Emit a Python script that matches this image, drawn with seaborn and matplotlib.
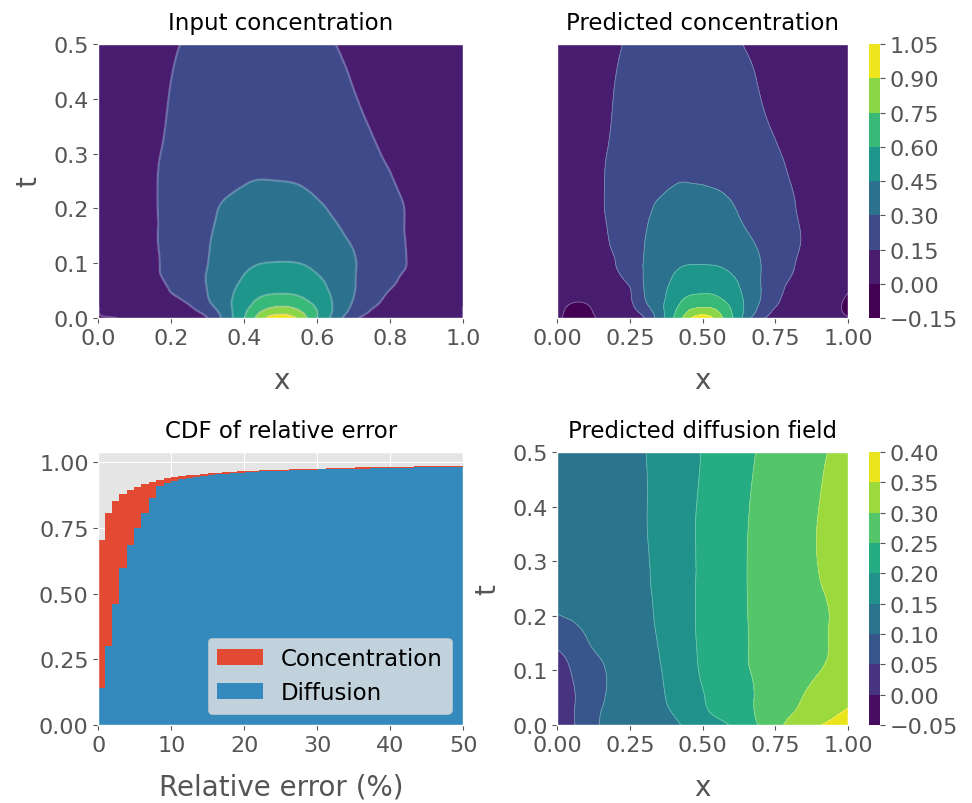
import numpy as np
import matplotlib
matplotlib.use("Agg")
import matplotlib.pyplot as plt
import matplotlib.tri as mtri
import seaborn as sns

# grids (x in space, t in time)
x_grid = [0.00, 0.05, 0.10, 0.15, 0.20, 0.25, 0.30, 0.35, 0.40, 0.45, 0.50,
          0.55, 0.60, 0.65, 0.70, 0.75, 0.80, 0.85, 0.90, 0.95, 1.00]
t_conc = [0.00, 0.01, 0.02, 0.04, 0.06, 0.08, 0.10, 0.15, 0.20, 0.25, 0.30, 0.40, 0.50]
t_diff = [0.00, 0.025, 0.05, 0.10, 0.15, 0.20, 0.25, 0.30, 0.40, 0.50]

# input concentration, one row per t
conc_input = [
    [0.00, 0.00, 0.01, 0.02, 0.04, 0.08, 0.15, 0.37, 0.60, 0.86, 1.00, 0.86, 0.60, 0.38, 0.18, 0.10, 0.06, 0.04, 0.02, 0.01, 0.00],
    [0.00, 0.01, 0.02, 0.04, 0.07, 0.11, 0.20, 0.38, 0.58, 0.78, 0.86, 0.78, 0.60, 0.41, 0.24, 0.13, 0.08, 0.05, 0.03, 0.01, 0.00],
    [0.00, 0.02, 0.03, 0.06, 0.09, 0.14, 0.25, 0.40, 0.56, 0.70, 0.76, 0.71, 0.58, 0.42, 0.27, 0.16, 0.10, 0.06, 0.04, 0.02, 0.00],
    [0.01, 0.03, 0.06, 0.09, 0.14, 0.19, 0.30, 0.41, 0.52, 0.60, 0.62, 0.60, 0.52, 0.42, 0.30, 0.20, 0.13, 0.08, 0.05, 0.03, 0.01],
    [0.02, 0.04, 0.08, 0.12, 0.16, 0.21, 0.31, 0.40, 0.48, 0.53, 0.55, 0.53, 0.48, 0.41, 0.31, 0.22, 0.16, 0.11, 0.06, 0.04, 0.02],
    [0.03, 0.05, 0.09, 0.135, 0.17, 0.22, 0.31, 0.38, 0.45, 0.49, 0.50, 0.49, 0.45, 0.40, 0.31, 0.23, 0.17, 0.135, 0.08, 0.05, 0.03],
    [0.03, 0.06, 0.10, 0.135, 0.18, 0.23, 0.30, 0.37, 0.42, 0.45, 0.455, 0.45, 0.42, 0.38, 0.31, 0.24, 0.18, 0.145, 0.09, 0.06, 0.03],
    [0.04, 0.07, 0.10, 0.14, 0.18, 0.23, 0.29, 0.33, 0.36, 0.375, 0.375, 0.37, 0.35, 0.32, 0.28, 0.24, 0.19, 0.14, 0.10, 0.07, 0.04],
    [0.04, 0.07, 0.10, 0.14, 0.18, 0.23, 0.28, 0.31, 0.325, 0.335, 0.335, 0.33, 0.31, 0.29, 0.26, 0.22, 0.18, 0.14, 0.10, 0.07, 0.04],
    [0.04, 0.07, 0.10, 0.14, 0.18, 0.22, 0.26, 0.28, 0.295, 0.302, 0.30, 0.295, 0.28, 0.265, 0.24, 0.21, 0.16, 0.12, 0.09, 0.06, 0.04],
    [0.04, 0.07, 0.10, 0.135, 0.17, 0.20, 0.23, 0.25, 0.26, 0.265, 0.265, 0.26, 0.25, 0.235, 0.21, 0.17, 0.13, 0.10, 0.08, 0.06, 0.04],
    [0.04, 0.07, 0.10, 0.125, 0.155, 0.18, 0.20, 0.215, 0.225, 0.23, 0.23, 0.22, 0.20, 0.18, 0.155, 0.13, 0.11, 0.09, 0.07, 0.05, 0.03],
    [0.04, 0.07, 0.10, 0.12, 0.14, 0.16, 0.18, 0.19, 0.20, 0.20, 0.195, 0.185, 0.17, 0.15, 0.13, 0.115, 0.10, 0.085, 0.07, 0.05, 0.03],
]

# predicted concentration
conc_pred = [
    [0.02, -0.03, -0.03, 0.02, 0.05, 0.08, 0.15, 0.37, 0.60, 0.84, 1.00, 0.83, 0.62, 0.38, 0.18, 0.10, 0.07, 0.05, 0.04, 0.03, 0.01],
    [0.02, -0.02, -0.02, 0.03, 0.06, 0.10, 0.20, 0.38, 0.58, 0.77, 0.84, 0.77, 0.60, 0.41, 0.24, 0.12, 0.08, 0.06, 0.05, 0.03, -0.02],
    [0.02, -0.01, -0.01, 0.04, 0.08, 0.12, 0.25, 0.40, 0.56, 0.70, 0.745, 0.71, 0.58, 0.42, 0.27, 0.15, 0.09, 0.07, 0.06, 0.03, -0.03],
    [0.03, 0.02, 0.03, 0.06, 0.10, 0.14, 0.30, 0.40, 0.52, 0.60, 0.62, 0.60, 0.52, 0.42, 0.30, 0.19, 0.11, 0.08, 0.06, 0.04, -0.01],
    [0.04, 0.04, 0.06, 0.09, 0.12, 0.16, 0.31, 0.40, 0.48, 0.53, 0.54, 0.53, 0.48, 0.41, 0.30, 0.21, 0.13, 0.09, 0.07, 0.05, 0.02],
    [0.05, 0.06, 0.08, 0.11, 0.14, 0.20, 0.31, 0.38, 0.45, 0.48, 0.49, 0.48, 0.45, 0.40, 0.30, 0.22, 0.16, 0.10, 0.08, 0.06, 0.04],
    [0.06, 0.07, 0.09, 0.12, 0.15, 0.21, 0.31, 0.37, 0.42, 0.445, 0.445, 0.44, 0.42, 0.38, 0.30, 0.23, 0.17, 0.12, 0.09, 0.07, 0.05],
    [0.07, 0.08, 0.10, 0.13, 0.17, 0.22, 0.295, 0.34, 0.36, 0.37, 0.37, 0.36, 0.34, 0.31, 0.27, 0.23, 0.18, 0.14, 0.10, 0.08, 0.06],
    [0.07, 0.08, 0.10, 0.14, 0.18, 0.23, 0.28, 0.31, 0.32, 0.33, 0.33, 0.32, 0.305, 0.28, 0.25, 0.22, 0.17, 0.13, 0.11, 0.09, 0.07],
    [0.07, 0.08, 0.10, 0.14, 0.18, 0.22, 0.26, 0.28, 0.295, 0.298, 0.295, 0.29, 0.28, 0.26, 0.24, 0.21, 0.15, 0.12, 0.10, 0.08, 0.06],
    [0.07, 0.08, 0.10, 0.135, 0.17, 0.20, 0.23, 0.25, 0.26, 0.265, 0.265, 0.26, 0.25, 0.23, 0.20, 0.165, 0.13, 0.11, 0.09, 0.08, 0.06],
    [0.07, 0.08, 0.10, 0.125, 0.155, 0.18, 0.20, 0.215, 0.225, 0.23, 0.23, 0.22, 0.20, 0.18, 0.15, 0.13, 0.11, 0.10, 0.09, 0.08, 0.06],
    [0.07, 0.08, 0.10, 0.12, 0.14, 0.16, 0.18, 0.19, 0.20, 0.20, 0.195, 0.185, 0.17, 0.145, 0.13, 0.115, 0.10, 0.09, 0.085, 0.075, 0.06],
]

# predicted diffusion field
diff_pred = [
    [0.030, 0.045, 0.075, 0.102, 0.110, 0.118, 0.125, 0.132, 0.142, 0.158, 0.172, 0.186, 0.204, 0.228, 0.256, 0.284, 0.312, 0.330, 0.347, 0.362, 0.378],
    [0.030, 0.046, 0.075, 0.100, 0.110, 0.120, 0.130, 0.140, 0.153, 0.172, 0.192, 0.208, 0.216, 0.235, 0.262, 0.280, 0.295, 0.310, 0.325, 0.340, 0.355],
    [0.030, 0.045, 0.070, 0.095, 0.110, 0.120, 0.130, 0.143, 0.160, 0.180, 0.198, 0.210, 0.218, 0.235, 0.262, 0.275, 0.288, 0.302, 0.315, 0.325, 0.335],
    [0.035, 0.052, 0.075, 0.095, 0.110, 0.122, 0.133, 0.147, 0.165, 0.185, 0.205, 0.215, 0.225, 0.245, 0.260, 0.270, 0.280, 0.290, 0.299, 0.305, 0.310],
    [0.058, 0.072, 0.096, 0.110, 0.118, 0.127, 0.137, 0.152, 0.170, 0.189, 0.207, 0.217, 0.228, 0.247, 0.262, 0.272, 0.281, 0.289, 0.296, 0.302, 0.306],
    [0.098, 0.105, 0.112, 0.120, 0.126, 0.133, 0.142, 0.156, 0.173, 0.191, 0.208, 0.218, 0.229, 0.248, 0.263, 0.273, 0.282, 0.289, 0.295, 0.302, 0.307],
    [0.108, 0.113, 0.118, 0.124, 0.130, 0.137, 0.145, 0.158, 0.174, 0.191, 0.208, 0.218, 0.230, 0.249, 0.264, 0.274, 0.282, 0.290, 0.298, 0.305, 0.310],
    [0.112, 0.117, 0.122, 0.127, 0.133, 0.139, 0.146, 0.160, 0.175, 0.190, 0.208, 0.219, 0.231, 0.249, 0.265, 0.276, 0.284, 0.292, 0.301, 0.310, 0.318],
    [0.115, 0.120, 0.125, 0.130, 0.136, 0.142, 0.148, 0.162, 0.176, 0.190, 0.207, 0.217, 0.228, 0.246, 0.262, 0.274, 0.283, 0.291, 0.300, 0.309, 0.317],
    [0.118, 0.123, 0.128, 0.133, 0.138, 0.144, 0.149, 0.163, 0.175, 0.187, 0.202, 0.213, 0.224, 0.238, 0.256, 0.268, 0.278, 0.286, 0.295, 0.303, 0.310],
]

conc_levels = [-0.15, 0.00, 0.15, 0.30, 0.45, 0.60, 0.75, 0.90, 1.05]
diff_levels = [-0.05, 0.00, 0.05, 0.10, 0.15, 0.20, 0.25, 0.30, 0.35, 0.40]

# CDF of relative error (%), one value per bin
err_edges = [0.0, 0.83] + [round(0.83 + 1.01 * k, 2) for k in range(1, 50)]
cdf_conc = [0.706, 0.809, 0.854, 0.879, 0.894, 0.907, 0.917, 0.926, 0.933, 0.939,
            0.944, 0.948, 0.951, 0.954, 0.957, 0.959, 0.961, 0.963, 0.965, 0.966,
            0.968, 0.969, 0.970, 0.971, 0.972, 0.973, 0.974, 0.975, 0.976, 0.977,
            0.977, 0.978, 0.979, 0.979, 0.980, 0.981, 0.981, 0.982, 0.982, 0.983,
            0.983, 0.984, 0.984, 0.985, 0.985, 0.985, 0.986, 0.986, 0.987, 0.987]
cdf_diff = [0.140, 0.300, 0.462, 0.598, 0.684, 0.750, 0.809, 0.865, 0.910, 0.922,
            0.930, 0.936, 0.941, 0.945, 0.949, 0.952, 0.955, 0.957, 0.959, 0.961,
            0.963, 0.965, 0.966, 0.967, 0.968, 0.969, 0.970, 0.971, 0.972, 0.973,
            0.974, 0.974, 0.975, 0.976, 0.976, 0.977, 0.977, 0.978, 0.978, 0.979,
            0.979, 0.980, 0.980, 0.981, 0.981, 0.981, 0.982, 0.982, 0.982, 0.983]

plt.style.use("ggplot")
plt.rcParams["xtick.labelsize"] = 16
plt.rcParams["ytick.labelsize"] = 16
plt.rcParams["axes.labelsize"] = 20
plt.rcParams["axes.titlesize"] = 16.5
plt.rcParams["axes.titlepad"] = 11


def field(xs, ts, z):
    # smooth rendering of a gridded field
    X, T = np.meshgrid(xs, ts)
    tri = mtri.Triangulation(X.ravel(), T.ravel())
    return mtri.UniformTriRefiner(tri).refine_field(np.ravel(z), subdiv=3)


fig = plt.figure(figsize=(9.72, 8.04), dpi=100)
ax1 = fig.add_axes([0.1013, 0.6032, 0.3755, 0.3408])
ax2 = fig.add_axes([0.5735, 0.6032, 0.2990, 0.3408])
cax2 = fig.add_axes([0.8940, 0.6032, 0.0113, 0.3408])
ax3 = fig.add_axes([0.1013, 0.0970, 0.3755, 0.3396])
ax4 = fig.add_axes([0.5735, 0.0970, 0.2990, 0.3396])
cax4 = fig.add_axes([0.8940, 0.0970, 0.0113, 0.3396])

# input concentration
tri1, z1 = field(x_grid, t_conc, conc_input)
ax1.tricontourf(tri1, z1, levels=conc_levels, cmap="viridis", vmin=0.0, vmax=1.0)
ax1.tricontour(tri1, z1, levels=conc_levels, colors="#d8c8f0", linewidths=1.6, alpha=0.3)
ax1.set_title("Input concentration")
ax1.set_xlabel("x", labelpad=13)
ax1.set_ylabel("t", labelpad=8)
ax1.set_xlim(0, 1)
ax1.set_ylim(0, 0.5)
ax1.set_xticks([0.0, 0.2, 0.4, 0.6, 0.8, 1.0])
ax1.set_yticks([0.0, 0.1, 0.2, 0.3, 0.4, 0.5])

# predicted concentration
tri2, z2 = field(x_grid, t_conc, conc_pred)
cf2 = ax2.tricontourf(tri2, z2, levels=conc_levels, cmap="viridis", vmin=0.0, vmax=1.0)
ax2.tricontour(tri2, z2, levels=conc_levels, colors="white", linewidths=0.6, alpha=0.35)
ax2.set_title("Predicted concentration")
ax2.set_xlabel("x", labelpad=13)
ax2.set_xlim(0, 1)
ax2.set_ylim(0, 0.5)
ax2.set_xticks([0.0, 0.25, 0.5, 0.75, 1.0])
ax2.set_yticks([])
cb2 = fig.colorbar(cf2, cax=cax2, ticks=conc_levels)
cb2.outline.set_visible(False)

# CDF of relative error
bin_mid = [(a + b) / 2 for a, b in zip(err_edges[:-1], err_edges[1:])]
sns.histplot(x=bin_mid, weights=cdf_conc, bins=err_edges, element="step", fill=True,
             alpha=1, linewidth=0, color="#E24A33", label="Concentration", ax=ax3)
sns.histplot(x=bin_mid, weights=cdf_diff, bins=err_edges, element="step", fill=True,
             alpha=1, linewidth=0, color="#348ABD", label="Diffusion", ax=ax3)
ax3.set_xlim(0, 50)
ax3.set_ylim(0, 1.04)
ax3.set_yticks([0.0, 0.25, 0.5, 0.75, 1.0])
ax3.set_title("CDF of relative error")
ax3.set_xlabel("Relative error (%)", labelpad=13)
ax3.set_ylabel("")
ax3.legend(loc="lower right", fontsize=16.5)

# predicted diffusion field
tri4, z4 = field(x_grid, t_diff, diff_pred)
cf4 = ax4.tricontourf(tri4, z4, levels=diff_levels, cmap="viridis", vmin=-0.04, vmax=0.39)
ax4.tricontour(tri4, z4, levels=diff_levels, colors="white", linewidths=0.6, alpha=0.35)
ax4.set_title("Predicted diffusion field")
ax4.set_xlabel("x", labelpad=13)
ax4.set_ylabel("t", labelpad=8)
ax4.set_xlim(0, 1)
ax4.set_ylim(0, 0.5)
ax4.set_xticks([0.0, 0.25, 0.5, 0.75, 1.0])
ax4.set_yticks([0.0, 0.1, 0.2, 0.3, 0.4, 0.5])
cb4 = fig.colorbar(cf4, cax=cax4, ticks=diff_levels)
cb4.outline.set_visible(False)

for cb in (cb2, cb4):
    cb.ax.tick_params(labelsize=16, colors="#555555")

fig.savefig("out.png", dpi=100)
